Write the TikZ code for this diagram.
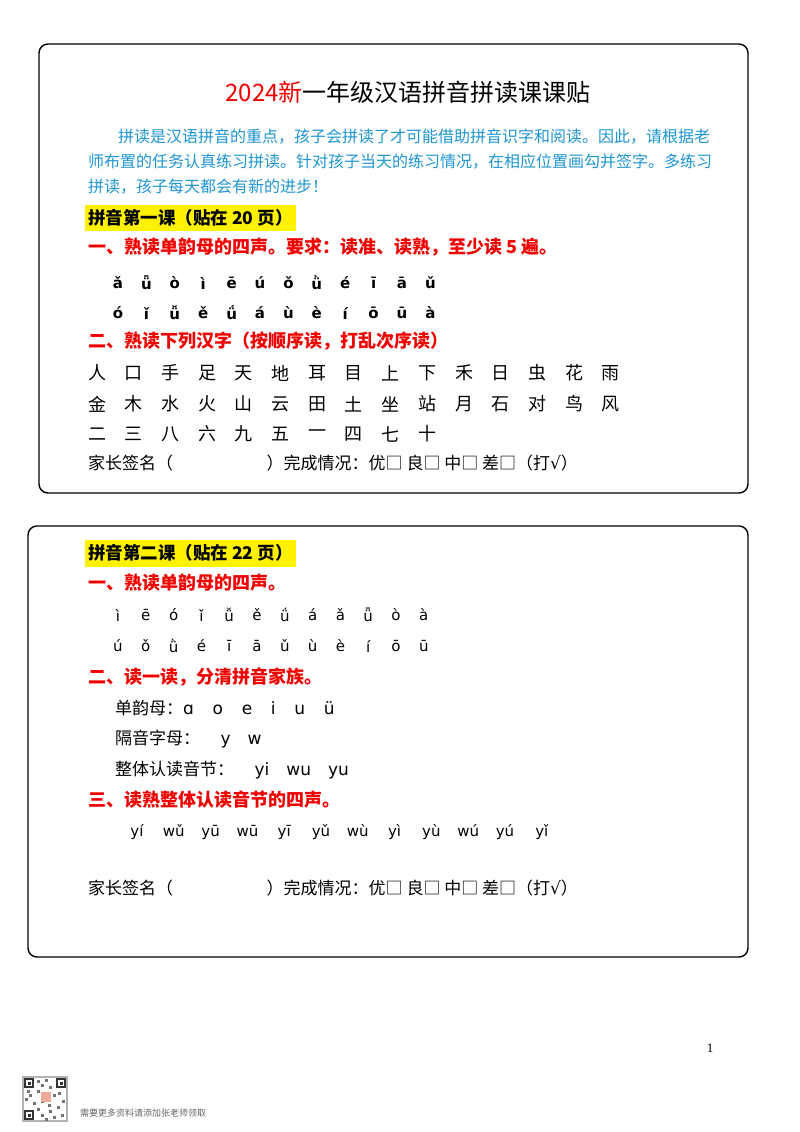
\documentclass[tikz,border=0pt]{standalone}
\usepackage{fontspec}
\setmainfont{Liberation Serif}
\newfontfamily\cjk{Noto Sans CJK SC}
\newfontfamily\py{DejaVu Sans}
\definecolor{hlred}{RGB}{240,0,0}
\definecolor{hlblue}{RGB}{30,150,210}
\tikzset{
 box/.style={draw=black,line width=1.4pt,rounded corners=9pt},
 txt/.style={anchor=west,inner sep=0pt,font=\cjk\fontsize{17}{17}\selectfont},
 red/.style={txt,text=hlred,font=\cjk\bfseries\fontsize{18}{18}\selectfont},
 blu/.style={txt,text=hlblue,font=\cjk\fontsize{16}{16}\selectfont},
 hl/.style={txt,fill=yellow,inner xsep=3pt,inner ysep=5pt,font=\cjk\bfseries\fontsize{17.5}{17.5}\selectfont},
 pin/.style={anchor=center,inner sep=0pt,font=\py\fontsize{15}{15}\selectfont},
 han/.style={anchor=center,inner sep=0pt,font=\cjk\fontsize{18}{18}\selectfont},
}
\newcommand{\sq}{□}
\begin{document}
\begin{tikzpicture}[x=1pt,y=-1pt]
\useasboundingbox (0,0) rectangle (800,1132);
\fill[white] (0,0) rectangle (800,1132);
% box 1
\draw[box] (39,44) rectangle (748,493);
\node[anchor=center,inner sep=0pt,font=\cjk\fontsize{24}{24}\selectfont] (title) at (408,92) {\textcolor{hlred}{2024新}一年级汉语拼音拼读课课贴};
\node[blu] (p1) at (118,137) {拼读是汉语拼音的重点，孩子会拼读了才可能借助拼音识字和阅读。因此，请根据老};
\node[blu] (p2) at (88,162) {师布置的任务认真练习拼读。针对孩子当天的练习情况，在相应位置画勾并签字。多练习};
\node[blu] (p3) at (88,187) {拼读，孩子每天都会有新的进步！};
\node[hl] (h1) at (85,218) {拼音第一课（贴在 20 页）};
\node[red] (r1) at (88,247) {一、熟读单韵母的四声。要求：读准、读熟，至少读 5 遍。};
\foreach \c [count=\i from 0] in {ǎ,ǖ,ò,ì,ē,ú,ǒ,ǜ,é,ī,ā,ǔ}
  \node[pin,font=\py\bfseries\fontsize{15}{15}\selectfont] (a\i) at (118+28.4*\i,283) {\c};
\foreach \c [count=\i from 0] in {ó,ǐ,ǚ,ě,ǘ,á,ù,è,í,ō,ū,à}
  \node[pin,font=\py\bfseries\fontsize{15}{15}\selectfont] (b\i) at (118+28.4*\i,313) {\c};
\node[red] (r2) at (88,341) {二、熟读下列汉字（按顺序读，打乱次序读）};
\foreach \c [count=\i from 0] in {人,口,手,足,天,地,耳,目,上,下,禾,日,虫,花,雨}
  \node[han] (c\i) at (97+36.7*\i,373) {\c};
\foreach \c [count=\i from 0] in {金,木,水,火,山,云,田,土,坐,站,月,石,对,鸟,风}
  \node[han] (d\i) at (97+36.7*\i,404) {\c};
\foreach \c [count=\i from 0] in {二,三,八,六,九,五,一,四,七,十}
  \node[han] (e\i) at (97+36.7*\i,434) {\c};
\node[txt] (s1) at (88,463) {家长签名（\hspace{5.5em}）完成情况：优\sq\ 良\sq\ 中\sq\ 差\sq（打{\py√}）};
% box 2
\draw[box] (28,526) rectangle (748,957);
\node[hl] (h2) at (85,553) {拼音第二课（贴在 22 页）};
\node[red] (r3) at (88,583) {一、熟读单韵母的四声。};
\foreach \c [count=\i from 0] in {ì,ē,ó,ǐ,ǚ,ě,ǘ,á,ǎ,ǖ,ò,à}
  \node[pin] (f\i) at (118+27.8*\i,615) {\c};
\foreach \c [count=\i from 0] in {ú,ǒ,ǜ,é,ī,ā,ǔ,ù,è,í,ō,ū}
  \node[pin] (g\i) at (118+27.8*\i,646) {\c};
\node[red] (r4) at (88,677) {二、读一读，分清拼音家族。};
\node[txt] (l1) at (115,708) {单韵母：\py ɑ\hspace{1.1em}o\hspace{1.1em}e\hspace{1.1em}i\hspace{1.1em}u\hspace{1.1em}ü};
\node[txt] (l2) at (115,739) {隔音字母：\hspace{1.2em}\py y\hspace{1em}w};
\node[txt] (l3) at (115,770) {整体认读音节：\hspace{1.2em}\py yi\hspace{1em}wu\hspace{1em}yu};
\node[red] (r5) at (88,800) {三、读熟整体认读音节的四声。};
\foreach \c [count=\i from 0] in {yí,wǔ,yū,wū,yī,yǔ,wù,yì,yù,wú,yú,yǐ}
  \node[pin,anchor=base] (k\i) at (137+36.8*\i,836) {\c};
\node[txt] (s2) at (88,888) {家长签名（\hspace{5.5em}）完成情况：优\sq\ 良\sq\ 中\sq\ 差\sq（打{\py√}）};
% footer
\node[anchor=center,inner sep=0pt,font=\fontsize{13}{13}\selectfont] (pg) at (710,1048) {1};
\fill[gray!60] (22,1076) rectangle (68,1122);
\fill[white] (24,1078) rectangle (66,1120);
\foreach \x/\y in {24/1078,56/1078,24/1110} {
  \fill[black!80] (\x,\y) rectangle ++(10,10);
  \fill[white] (\x+2,\y+2) rectangle ++(6,6);
  \fill[black!80] (\x+3.5,\y+3.5) rectangle ++(3,3);}
\foreach \x/\y in {37/1080,41/1084,45/1079,49/1086,37/1090,29/1094,25/1098,33/1102,41/1100,53/1094,58/1092,62/1100,57/1106,49/1110,41/1114,37/1108,61/1114,53/1116,45/1118,27/1090,48/1104}
  \fill[black!55] (\x,\y) rectangle ++(3,3);
\fill[pink!70!brown] (41,1092) rectangle (51,1102);
\node[anchor=west,inner sep=0pt,text=black!60,font=\cjk\fontsize{9}{9}\selectfont] (qr) at (80,1113) {需要更多资料请添加张老师领取};
\end{tikzpicture}
\end{document}
